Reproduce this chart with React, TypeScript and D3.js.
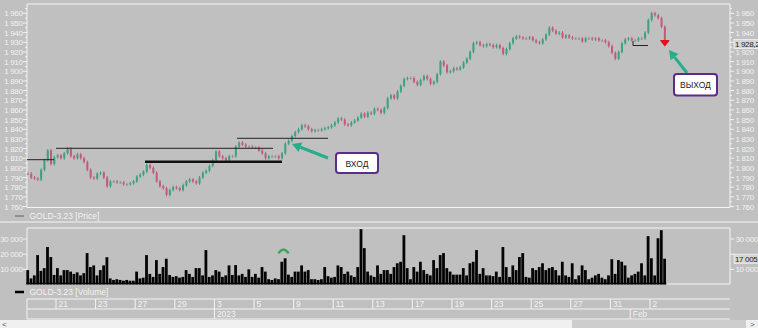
import React from "react";
import * as d3 from "d3";

const W = 758;
const H = 328;

// trading days shown on the time axis (Dec 19 2022 .. Feb 2 2023)
const tradingDaysFull = ["19", "20", "21", "22", "23", "26", "27", "28", "29", "30", "3", "4", "5", "6", "9", "10", "11", "12", "13", "16", "17", "18", "19", "20", "23", "24", "25", "26", "27", "30", "31", "1", "2"];
const monthMarks = [
  { day: 10, label: "2023" },
  { day: 31, label: "Feb" },
];

// close of each bar (6 bars per trading day)
const closes = [
  1794, 1790, 1789, 1788, 1798, 1808, 1818, 1804, 1811, 1813,
  1810, 1815, 1820, 1812, 1810, 1814, 1810, 1806, 1798, 1790,
  1789, 1794, 1795, 1790, 1781, 1786, 1786, 1785, 1785, 1783,
  1783, 1784, 1786, 1791, 1793, 1796, 1803, 1800, 1795, 1786,
  1781, 1779, 1772, 1777, 1780, 1779, 1777, 1782, 1786, 1788,
  1786, 1784, 1790, 1795, 1797, 1802, 1808, 1817, 1812, 1810,
  1808, 1812, 1812, 1822, 1826, 1824, 1822, 1822, 1821, 1821,
  1818, 1815, 1810, 1812, 1812, 1812, 1810, 1815, 1825, 1828,
  1833, 1837, 1840, 1844, 1843, 1840, 1838, 1839, 1839, 1840,
  1841, 1842, 1844, 1847, 1851, 1850, 1845, 1844, 1847, 1849,
  1852, 1856, 1853, 1857, 1856, 1861, 1860, 1857, 1862, 1872,
  1875, 1872, 1879, 1885, 1892, 1893, 1893, 1889, 1886, 1891,
  1895, 1892, 1887, 1889, 1897, 1910, 1906, 1899, 1900, 1903,
  1902, 1904, 1909, 1913, 1920, 1929, 1930, 1927, 1926, 1928,
  1927, 1925, 1927, 1924, 1918, 1923, 1929, 1934, 1936, 1935,
  1934, 1934, 1935, 1932, 1930, 1929, 1933, 1938, 1945, 1942,
  1939, 1940, 1935, 1937, 1935, 1934, 1934, 1934, 1931, 1934,
  1934, 1933, 1934, 1932, 1932, 1930, 1926, 1919, 1913, 1920,
  1929, 1933, 1934, 1932, 1932, 1934, 1934, 1940, 1953, 1960,
  1958, 1955, 1946, 1928.2,
];

const volumes = [
  9500, 4000, 6000, 19400, 9000, 10800, 24700, 18100, 6300, 10800,
  6000, 9500, 9500, 8500, 7000, 8000, 6000, 7500, 20700, 11500,
  12600, 6000, 9500, 12600, 18000, 4000, 3000, 3500, 3000, 2500,
  3000, 2500, 2500, 8500, 4000, 4500, 19400, 7000, 5000, 16100,
  7000, 11500, 17000, 6300, 5000, 5500, 4500, 5000, 9500, 7000,
  5000, 10800, 10800, 6000, 22700, 5000, 6000, 9500, 8500, 5000,
  6000, 12600, 6300, 12800, 6000, 7000, 5000, 10000, 5000, 7000,
  4500, 11500, 8500, 3500, 3000, 4000, 3500, 15000, 17300, 6500,
  5000, 8500, 8500, 12600, 8500, 9500, 3500, 3500, 3000, 3500,
  11500, 5500, 4500, 5000, 12600, 11500, 7000, 8500, 6000, 5000,
  11500, 36500, 24000, 8500, 6000, 5000, 12600, 7000, 9500, 9500,
  7000, 11500, 14000, 15000, 32500, 10800, 3500, 11500, 8500, 15000,
  9500, 7000, 6000, 16100, 10800, 19400, 20700, 10800, 8500, 6500,
  6500, 6500, 10800, 6000, 14000, 15000, 22700, 7000, 10800, 6000,
  6000, 5500, 8500, 5000, 24700, 11500, 5000, 12600, 9500, 18100,
  20700, 5000, 4500, 10800, 9500, 11500, 14000, 9500, 10800, 11500,
  9500, 6000, 15000, 6000, 5000, 14000, 3500, 6000, 12600, 9500,
  3500, 4500, 6000, 7000, 4500, 3500, 6000, 16700, 7000, 16100,
  15000, 12600, 4500, 6000, 7000, 8500, 14000, 6000, 31900, 17300,
  6000, 30500, 35800, 17005,
];

const priceTicks = d3.range(1760, 1961, 10);
const volumeTicks = [10000, 20000, 30000];

const BARS_PER_DAY = 6;
const FIRST_SLOT = 3;

const L = 27;
const R = 730;
const PT = 4;
const PB = 207.5;
const VT = 228;
const VB = 284;

const ru = d3.formatLocale({ decimal: ",", thousands: " ", grouping: [3], currency: ["", ""] });
const fmt0 = ru.format(",.0f");
const fmt1 = ru.format(",.1f");

const UP = "#3e9f82";
const DOWN = "#c25b78";
const FLAT = "#8e8e8e";
const TXT = "#f2f2f2";
const FONT = "'Liberation Sans', Arial, sans-serif";
const AX = 8;
const LS = -0.35;

export default function App() {
  const xDay = d3.scaleLinear().domain([0, tradingDaysFull.length]).range([16.4, 16.4 + tradingDaysFull.length * 19.8]);
  const xBar = (i: number) => xDay((FIRST_SLOT + i + 0.5) / BARS_PER_DAY);
  const y = d3.scaleLinear().domain([1760, 1960]).range([206.5, 13.3]);
  const yv = d3.scaleLinear().domain([0, 30000]).range([284.5, 239]);
  const step = xBar(1) - xBar(0);

  const last = closes[closes.length - 1];
  const lastX = xBar(closes.length - 1);
  const lastVol = volumes[volumes.length - 1];

  const candles = closes.map((c, i) => {
    const o = i === 0 ? c : closes[i - 1];
    const top = y(Math.max(o, c));
    const bot = y(Math.min(o, c));
    const col = Math.abs(c - o) < 0.6 ? FLAT : c > o ? UP : DOWN;
    return { x: xBar(i), top, bot, col };
  });

  const labelDays = tradingDaysFull.map((d, k) => ({ d, k })).filter((e) => e.k >= 2 && e.k % 2 === 0);

  const arrow = (x1: number, y1: number, x2: number, y2: number) => {
    const a = Math.atan2(y2 - y1, x2 - x1);
    const hl = 9;
    const hw = 5;
    const bx = x2 - hl * Math.cos(a);
    const by = y2 - hl * Math.sin(a);
    const px = -Math.sin(a);
    const py = Math.cos(a);
    return (
      <g>
        <line x1={x1} y1={y1} x2={bx} y2={by} stroke="#27ad8c" strokeWidth={3} />
        <path d={`M${x2},${y2} L${bx + px * hw},${by + py * hw} L${bx - px * hw},${by - py * hw} Z`} fill="#27ad8c" />
      </g>
    );
  };

  return (
    <svg width={W} height={H} style={{ position: "absolute", left: 0, top: 0, background: "#c0c0c0" }} fontFamily={FONT}>
      <rect x={0} y={0} width={W} height={H} fill="#c0c0c0" />
      <defs>
        <clipPath id="pc">
          <rect x={L} y={PT} width={R - L} height={PB - PT} />
        </clipPath>
      </defs>

      {/* price panel frame */}
      <line x1={L} y1={PT} x2={R} y2={PT} stroke="#f4f4f4" strokeWidth={1} />
      <line x1={L} y1={PT} x2={L} y2={PB} stroke="#f4f4f4" strokeWidth={1} />
      <line x1={R} y1={PT} x2={R} y2={PB} stroke="#f4f4f4" strokeWidth={1} />
      <line x1={L} y1={PB} x2={R} y2={PB} stroke="#f4f4f4" strokeWidth={1} />

      {/* price axes */}
      {priceTicks.map((t) => (
        <g key={t}>
          <line x1={L - 4} y1={y(t)} x2={L} y2={y(t)} stroke={TXT} />
          <line x1={L - 2} y1={y(t + 5)} x2={L} y2={y(t + 5)} stroke={TXT} />
          <text x={L - 4.5} y={y(t) + 3} fontSize={AX} letterSpacing={LS} fill={TXT} textAnchor="end">{fmt0(t)}</text>
          <line x1={R} y1={y(t)} x2={R + 4} y2={y(t)} stroke={TXT} />
          <line x1={R} y1={y(t + 5)} x2={R + 2} y2={y(t + 5)} stroke={TXT} />
          {Math.abs(y(t) - y(last)) > 6 && (
            <text x={R + 5.5} y={y(t) + 3} fontSize={AX} letterSpacing={LS} fill={TXT}>{fmt0(t)}</text>
          )}
        </g>
      ))}

      {/* candles */}
      <g clipPath="url(#pc)">
        {candles.map((c, i) => (
          <g key={i}>
            <line x1={c.x} x2={c.x} y1={c.top - 1.5} y2={c.bot + 1.5} stroke={c.col} strokeWidth={1} />
            <rect x={c.x - 1} y={c.top} width={2} height={Math.max(1, c.bot - c.top)} fill={c.col} />
          </g>
        ))}
      </g>

      {/* support / resistance lines */}
      <line x1={27} y1={159.7} x2={54} y2={159.7} stroke="#222" strokeWidth={1} />
      <line x1={56} y1={148.3} x2={273} y2={148.3} stroke="#222" strokeWidth={1} />
      <line x1={145} y1={161.7} x2={282} y2={161.7} stroke="#111" strokeWidth={2.5} />
      <line x1={237} y1={138.3} x2={328} y2={138.3} stroke="#222" strokeWidth={1} />
      <path d="M633,41 L633,45.5 L648,45.5" fill="none" stroke="#222" strokeWidth={1} />

      {/* exit marker */}
      <path d={`M${lastX - 4.5},${y(last) - 3} L${lastX + 4.5},${y(last) - 3} L${lastX},${y(last) + 2.5} Z`} fill="#e0101a" />
      <line x1={lastX - 4.5} x2={lastX + 4.5} y1={y(last) - 3.5} y2={y(last) - 3.5} stroke="#e0101a" strokeWidth={1} />

      {/* annotations */}
      {arrow(328, 158, 292, 144)}
      <rect x={336} y={153} width={42} height={20} rx={3} fill="#ffffff" stroke="#5b2c8f" strokeWidth={2} />
      <text x={357} y={166.5} fontSize={8.5} fill="#222" textAnchor="middle">ВХОД</text>
      {arrow(687, 73, 669, 50)}
      <rect x={674} y={74} width={43} height={21.5} rx={3} fill="#ffffff" stroke="#5b2c8f" strokeWidth={2} />
      <text x={695.5} y={88} fontSize={8.5} fill="#222" textAnchor="middle">ВЫХОД</text>

      {/* last price box */}
      <rect x={734} y={y(last) - 4.5} width={25} height={9} fill="#d6d6d6" stroke="#f2f2f2" strokeWidth={0.8} />
      <text x={735} y={y(last) + 3} fontSize={AX} letterSpacing={LS} fill="#222">{fmt1(last)}</text>

      {/* price legend */}
      <line x1={15} x2={24} y1={216} y2={216} stroke="#7f7f7f" strokeWidth={1.5} />
      <text x={29.5} y={219} fontSize={8.5} fill={TXT}>GOLD-3.23 [Price]</text>
      <line x1={0} x2={W} y1={222} y2={222} stroke="#f4f4f4" strokeWidth={1} />

      {/* volume panel */}
      <line x1={L} y1={VT} x2={R} y2={VT} stroke="#f4f4f4" />
      <line x1={L} y1={VT} x2={L} y2={VB} stroke="#f4f4f4" />
      <line x1={R} y1={VT} x2={R} y2={VB} stroke="#f4f4f4" />
      <line x1={L} y1={VB} x2={R} y2={VB} stroke="#f4f4f4" />
      {volumeTicks.map((t) => (
        <g key={t}>
          <line x1={L - 4} y1={yv(t)} x2={L} y2={yv(t)} stroke={TXT} />
          <text x={L - 4.5} y={yv(t) + 3} fontSize={AX} letterSpacing={LS} fill={TXT} textAnchor="end">{fmt0(t)}</text>
          <line x1={R} y1={yv(t)} x2={R + 4} y2={yv(t)} stroke={TXT} />
          {Math.abs(yv(t) - yv(lastVol)) > 6 && (
            <text x={R + 5.5} y={yv(t) + 3} fontSize={AX} letterSpacing={LS} fill={TXT}>{fmt0(t)}</text>
          )}
        </g>
      ))}
      <g>
        {volumes.map((v, i) => (
          <rect key={i} x={xBar(i) - step / 2} y={yv(v)} width={step * 0.85} height={yv(0) - yv(v)} fill="#050505" />
        ))}
        <line x1={xBar(0) - 1.5} x2={xBar(volumes.length - 1) + 1.5} y1={VB - 0.5} y2={VB - 0.5} stroke="#050505" strokeWidth={1.5} />
      </g>
      <path d="M279,252.5 Q283.5,246.5 288,252.5" fill="none" stroke="#3aa65a" strokeWidth={2.5} strokeLinecap="round" />
      <rect x={734} y={yv(lastVol) - 4.5} width={25} height={9} fill="#d6d6d6" stroke="#f2f2f2" strokeWidth={0.8} />
      <text x={735} y={yv(lastVol) + 3} fontSize={AX} letterSpacing={LS} fill="#222">{fmt0(lastVol)}</text>

      {/* volume legend */}
      <line x1={15} x2={24} y1={292} y2={292} stroke="#000" strokeWidth={2.5} />
      <text x={29.5} y={295} fontSize={8.5} fill={TXT}>GOLD-3.23 [Volume]</text>

      {/* time axis */}
      <line x1={L} x2={R} y1={299} y2={299} stroke="#f4f4f4" />
      <line x1={L} x2={R} y1={309} y2={309} stroke="#f4f4f4" />
      <line x1={L} x2={R} y1={319} y2={319} stroke="#f4f4f4" />
      <line x1={L} x2={L} y1={299} y2={319} stroke="#f4f4f4" />
      {labelDays.map((e) => (
        <g key={e.k}>
          <line x1={xDay(e.k)} x2={xDay(e.k)} y1={299} y2={309} stroke="#f4f4f4" />
          <text x={xDay(e.k) + 2.5} y={307} fontSize={8.5} fill={TXT}>{e.d}</text>
        </g>
      ))}
      {monthMarks.map((m) => (
        <g key={m.label}>
          <line x1={xDay(m.day)} x2={xDay(m.day)} y1={309} y2={319} stroke="#f4f4f4" />
          <text x={xDay(m.day) + 2.5} y={317} fontSize={8.5} fill={TXT}>{m.label}</text>
        </g>
      ))}

      {/* scrollbar */}
      <rect x={0} y={320} width={W} height={8} fill="#f0f0f0" />
      <rect x={572} y={320} width={174} height={8} fill="#cdcdcd" />
      <text x={2} y={327} fontSize={8} fill="#555">&lt;</text>
      <text x={750} y={327} fontSize={8} fill="#555">&gt;</text>
    </svg>
  );
}
